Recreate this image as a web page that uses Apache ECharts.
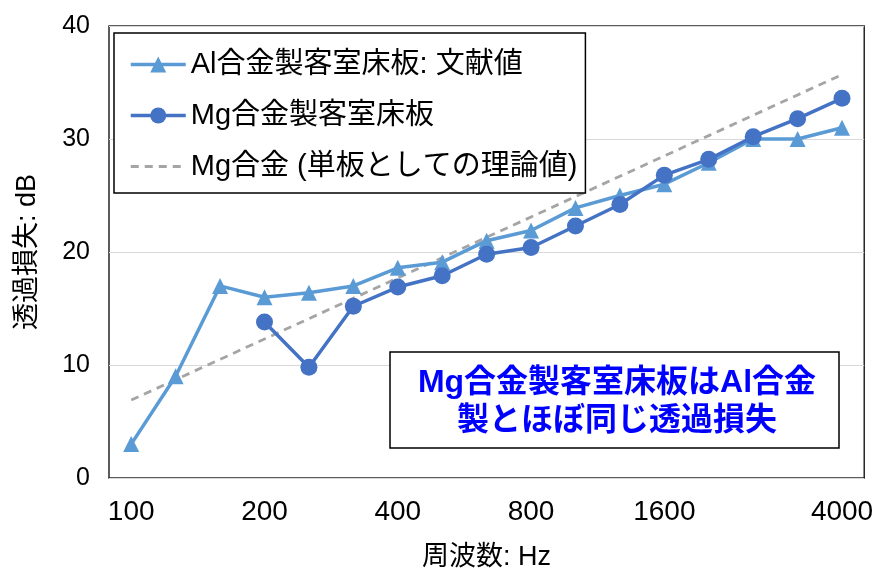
<!DOCTYPE html>
<html>
<head>
<meta charset="utf-8">
<script src="https://cdn.jsdelivr.net/npm/echarts@6/dist/echarts.min.js"></script>
<style>html,body{margin:0;padding:0;background:#fff;}#c{width:876px;height:576px;}</style>
</head>
<body>
<div id="c"></div>
<script>
var categories = ['100','125','160','200','250','315','400','500','630','800','1000','1250','1600','2000','2500','3150','4000'];
var shownLabels = ['100','200','400','800','1600','4000'];
var alValues = [3, 9, 17, 16, 16.4, 17, 18.6, 19.1, 21, 21.9, 23.9, 25, 26, 27.9, 30, 30, 31];
var mgValues = [null, null, null, 13.8, 9.8, 15.2, 16.9, 17.9, 19.8, 20.4, 22.3, 24.2, 26.8, 28.2, 30.2, 31.8, 33.6];
var theoryValues = [6.9, 8.7, 10.5, 12.3, 14.1, 15.9, 17.7, 19.5, 21.3, 23.1, 24.9, 26.7, 28.5, 30.3, 32.1, 33.9, 35.7];
var seriesNames = ['Al合金製客室床板: 文献値', 'Mg合金製客室床板', 'Mg合金 (単板としての理論値)'];
var yTicks = {min: 0, max: 40, interval: 10};
var xTitle = '周波数: Hz';
var yTitle = '透過損失: dB';
var noteText = 'Mg合金製客室床板はAl合金\n製とほぼ同じ透過損失';

var FONT = '"Liberation Sans", "Noto Sans CJK JP", sans-serif';
var chart = echarts.init(document.getElementById('c'), null, {renderer: 'canvas'});
chart.setOption({
  animation: false,
  backgroundColor: '#fff',
  textStyle: {fontFamily: FONT},
  grid: {left: 109, top: 26, right: 6, bottom: 97, show: true, borderColor: '#262626', borderWidth: 1.5, backgroundColor: 'transparent'},
  legend: {
    orient: 'vertical', left: 114, top: 33,
    borderColor: '#000', borderWidth: 1.5, backgroundColor: '#fff',
    padding: [17, 8, 12, 15], itemGap: 22, itemWidth: 55, itemHeight: 20,
    lineStyle: {width: 3.5},
    textStyle: {fontSize: 29, color: '#000', fontFamily: FONT},
    data: [
      {name: seriesNames[0]},
      {name: seriesNames[1]},
      {name: seriesNames[2], itemStyle: {opacity: 0}, lineStyle: {width: 2.8, opacity: 1}}
    ]
  },
  xAxis: {
    type: 'category', data: categories, boundaryGap: true,
    axisLine: {show: false}, axisTick: {show: false},
    axisLabel: {
      interval: function (i, v) { return shownLabels.indexOf(v) >= 0; },
      fontSize: 28, color: '#000', margin: 20, fontFamily: FONT
    },
    name: xTitle, nameLocation: 'middle', nameGap: 66,
    nameTextStyle: {fontSize: 27, color: '#000', fontFamily: FONT}
  },
  yAxis: {
    type: 'value', min: yTicks.min, max: yTicks.max, interval: yTicks.interval,
    axisLine: {show: false}, axisTick: {show: false},
    splitLine: {lineStyle: {color: '#d9d9d9', width: 1.2}},
    axisLabel: {fontSize: 25, color: '#000', margin: 19},
    name: yTitle, nameLocation: 'middle', nameGap: 68, nameRotate: 90,
    nameTextStyle: {fontSize: 27, color: '#000'}
  },
  series: [
    {
      name: seriesNames[0], type: 'line', data: alValues,
      symbol: 'triangle', symbolSize: 16,
      lineStyle: {color: '#5B9BD5', width: 3.5}, itemStyle: {color: '#5B9BD5'}, z: 3
    },
    {
      name: seriesNames[1], type: 'line', data: mgValues,
      symbol: 'circle', symbolSize: 17,
      lineStyle: {color: '#4472C4', width: 3.5}, itemStyle: {color: '#4472C4'}, z: 4
    },
    {
      name: seriesNames[2], type: 'line', data: theoryValues,
      symbol: 'none',
      lineStyle: {color: '#A5A5A5', width: 2.8, type: [8, 6]}, itemStyle: {color: '#A5A5A5'}, z: 2
    }
  ],
  graphic: [
    {type: 'rect', z: 100, shape: {x: 390, y: 352, width: 449, height: 96},
     style: {fill: '#fff', stroke: '#000', lineWidth: 1.5}},
    {type: 'text', z: 101, x: 617, y: 402,
     style: {text: noteText, fill: '#0000FF', font: 'bold 32px "Liberation Sans", "Noto Sans CJK JP", sans-serif',
             textAlign: 'center', textVerticalAlign: 'middle', lineHeight: 38}}
  ]
});
</script>
</body>
</html>
